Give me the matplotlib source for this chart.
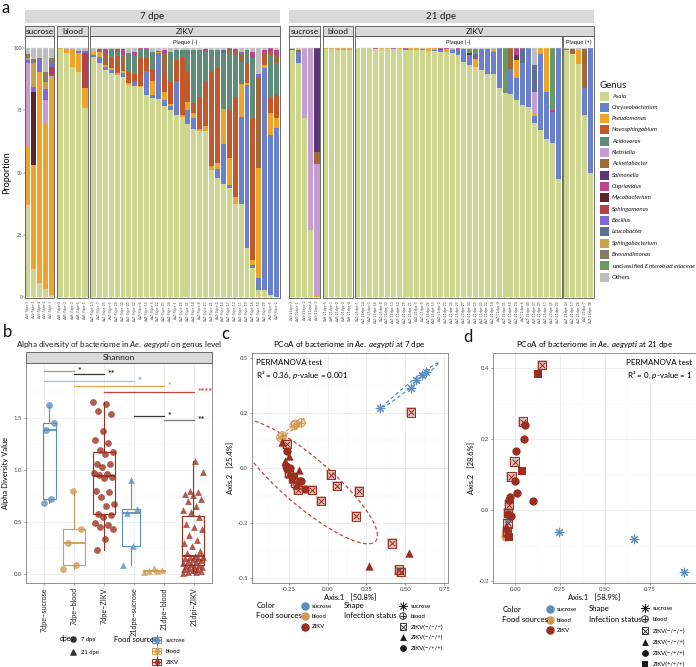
import numpy as np
import matplotlib.pyplot as plt
from matplotlib.patches import Rectangle

plt.rcParams['font.family'] = ['Lato', 'DejaVu Sans']
plt.rcParams['mathtext.fontset'] = 'custom'
plt.rcParams['mathtext.rm'] = 'Lato'
plt.rcParams['mathtext.it'] = 'Lato:italic'

# ---------------- data: panel a (relative abundance, %) ----------------
genera = ['Asaia', 'Chryseobacterium', 'Pseudomonas', 'Novosphingobium', 'Acidovorax',
          'Klebsiella', 'Acinetobacter', 'Salmonella', 'Cupriavidus', 'Mycobacterium',
          'Sphingomonas', 'Bacillus', 'Leucobacter', 'Sphingobacterium', 'Brevundimonas',
          'unclassified Enterobacteriaceae', 'Others']
codes = ['As', 'Ch', 'Ps', 'No', 'Ac', 'Kl', 'At', 'Sa', 'Cu', 'My', 'Sp', 'Ba', 'Le',
         'Sb', 'Br', 'En', 'Ot']
genus_colors = ['#CCD68E', '#6B80CC', '#EEA42A', '#C4582B', '#5F8C78', '#C59DD2', '#A0683B',
                '#5C3576', '#B8468B', '#5A2628', '#B4414B', '#7E69D6', '#606F8E', '#C9A34B',
                '#867B63', '#6A9A5D', '#BEBEBE']

sucrose_7 = [dict(As=37, Ps=24, Kl=33, Ba=1, Sb=1, Br=1.5),
             dict(As=11.5, Ps=41.5, My=29.5, Ba=2, Sb=9.5, Br=1.5),
             dict(As=6, Ps=84.5, Ba=4.5, Br=1),
             dict(As=3.5, Ps=66.5, Kl=9, At=0.5, Ba=4, Sb=3, Br=4),
             dict(As=1, Ps=87, Kl=0.7, Sp=3.5, Ba=1.3, Br=2.5)]
blood_7 = [dict(As=99.5, Ps=0.3), dict(As=98, Ps=1.5), dict(As=92.5, Ps=7, Cu=0.2),
           dict(As=90.5, Ps=7.5, Ba=0.7), dict(As=76, Ps=8, Sp=14, Ba=0.7)]
zikv_7 = [dict(As=96.5, Ch=0.8, Ps=1), dict(As=94, Ch=2.4, Ps=2, At=1.2),
          dict(As=91.2, Ch=1, Ps=0.8, At=5, Cu=1.5), dict(As=89.8, Ch=1.3, Ps=0.9, No=4.4, Ac=3),
          dict(As=89.2, Ps=0.7, No=6.7, Ac=1.6, At=1.3), dict(As=88.5, Ch=1.3, Ps=1, No=2.4, At=4, Cu=2.3),
          dict(As=85.1, Ps=0.7, No=4.4, Ac=7.9), dict(As=84.7, Ch=1.7, No=3, Ac=7.8, Cu=1),
          dict(As=84.5, Ps=0.4, No=11, Ac=3.6, Cu=0.5), dict(As=81, Ch=9.8, No=5, Ac=3.6, Cu=0.6),
          dict(As=80, Ch=1.3, Ps=5.5, No=4.7, Ac=6.7), dict(As=79.4, Ch=18.5, Ps=0.5, Cu=0.5),
          dict(As=76.7, Ch=2.4, Ps=3.3, No=6.7, At=8.7, Cu=1.5), dict(As=75, Ch=1.6, Ps=1.1, No=8.7, Ac=12),
          dict(As=73, Ch=13.8, No=8.3, Ac=4), dict(As=72.4, Ps=0.7, No=22.7, Ac=3.3),
          dict(As=69.7, Ch=5.4, Ps=3.3, No=12, Ac=8.7), dict(As=67.5, Ch=4.3, Ps=2.3, No=3.7, Ac=21.4),
          dict(As=66.8, Ps=0.9, No=12.7, Ac=18.7), dict(As=66.8, Ps=1.9, No=17.8, Ac=12, Cu=1),
          dict(As=51, Ps=1.6, No=37.9, Ac=8.7), dict(As=48, Ch=3.6, Ps=2.3, No=37.9, Ac=7.3),
          dict(As=45.6, Ch=16, Ps=13.8, Ac=22.4, Le=1.2), dict(As=44, Ch=1, Ps=11, No=19, Ac=23, At=2),
          dict(As=37.6, Ps=2.7, No=40, Ac=16.7, At=1.5, Cu=1),
          dict(As=37.3, Ch=35, Ps=13.4, Ac=8.7, At=3.3, Ba=0.7),
          dict(As=20, Ch=65, Ps=1, No=8, Ac=5), dict(As=12, Ch=1, Ps=2, No=57, Ac=24, Cu=2.5),
          dict(As=3, Ch=5, Ps=44, At=36, Ba=1.5), dict(As=3, Ch=89, Ps=1, No=4, At=1, Cu=1),
          dict(As=1, Ch=64, Ps=9, No=6, Ac=17, At=1.5, Cu=1.5),
          dict(Ch=68, Ps=4, No=9, Ac=13, At=3, Cu=2)]
sucrose_21 = [dict(As=99, At=0.7), dict(As=94, Ch=4.5, At=0.8), dict(As=72, Kl=28),
              dict(As=27, Kl=73), dict(Ps=0.5, Kl=53, At=5, Sa=41.5)]
blood_21 = [dict(As=99.6, Ps=0.4), dict(As=99.5, Ps=0.5), dict(As=99.3, Ps=0.6),
            dict(As=99.2, Ps=0.7), dict(As=99, Ps=0.9)]
zikv_21_neg = [dict(As=99.9), dict(As=99.8, Ps=0.2), dict(As=99.8, Ch=0.1), dict(As=99.7, Cu=0.2),
               dict(As=99.6, Ps=0.3), dict(As=99.5, Ps=0.4), dict(As=99.5, Cu=0.4), dict(As=99.4, Ps=0.5),
               dict(As=99.3, Ch=0.4, Cu=0.2), dict(As=99.2, Ps=0.6), dict(As=99.1, Ps=0.7),
               dict(As=99.0, Ch=0.7), dict(As=98.8, Ps=1.0), dict(As=98.6, Ch=0.6, Ps=0.6),
               dict(As=98.4, Ch=0.8, Cu=0.6), dict(As=98.2, Ps=1.2, Cu=0.4),
               dict(As=97.9, Ch=1.2, Ps=0.5), dict(As=97.3, Ch=2, Cu=0.7), dict(As=94.5, Ch=5),
               dict(As=93, Ch=4, Sa=1, En=1.5), dict(As=92.5, Ps=3, Cu=1, Le=1, En=2),
               dict(As=91, Ch=8.5), dict(As=89.5, Ch=10), dict(As=89.5, Ch=9, Ps=1.2),
               dict(As=84, Ch=16), dict(As=82, En=18), dict(As=81.5, Ch=10, At=8.5),
               dict(As=79, Ch=9, Ps=7, Sa=2, Cu=3), dict(As=77, Ch=17, Le=6), dict(As=76.4, Ch=23.6),
               dict(As=70, Ch=2.7, Ps=0.7, Kl=9, Le=10.7), dict(As=67, Ch=30.5, Ps=2.5),
               dict(As=63.5, Ch=19, Ps=17.5), dict(As=62, Ch=12.5, Cu=0.5, En=25),
               dict(As=47.5, Ch=52.5)]
zikv_21_pos = [dict(As=99, Ch=0.5), dict(As=97.5, At=2), dict(As=93.5, Ps=5.5),
               dict(As=73, Ch=11, At=15.5), dict(As=50, Ch=50)]

ids_s7 = ['AaS-7dpe-5', 'AaS-7dpe-1', 'AaS-7dpe-4', 'AaS-7dpe-2', 'AaS-7dpe-3']
ids_b7 = ['AaB-7dpe-4', 'AaB-7dpe-2', 'AaB-7dpe-3', 'AaB-7dpe-5', 'AaB-7dpe-1']
num_z7 = [13, 7, 25, 9, 28, 30, 20, 32, 4, 15, 6, 22, 27, 24, 1, 26, 31, 18, 8, 23, 21, 3,
          14, 17, 12, 11, 19, 16, 10, 29, 5, 2]
ids_s21 = ['AaS-21dpe-5', 'AaS-21dpe-1', 'AaS-21dpe-2', 'AaS-21dpe-4', 'AaS-21dpe-3']
ids_b21 = ['AaB-21dpe-5', 'AaB-21dpe-1', 'AaB-21dpe-2', 'AaB-21dpe-3', 'AaB-21dpe-4']
num_z21n = [1, 14, 3, 16, 8, 33, 13, 12, 29, 21, 5, 9, 26, 15, 2, 23, 36, 25, 27, 30, 19, 32,
            22, 10, 4, 31, 18, 24, 6, 40, 37, 35, 11, 39, 20]
num_z21p = [34, 17, 28, 7, 38]

# ---------------- data: panel b (Shannon) ----------------
b_groups = ['7dpe\u2212sucrose', '7dpe\u2212blood', '7dpe\u2212ZIKV',
            '21dpe\u2212sucrose', '21dpe\u2212blood', '21dpi\u2212ZIKV']
sh_s7 = [0.68, 0.72, 1.38, 1.45, 1.62]
sh_b7 = [0.05, 0.09, 0.30, 0.43, 0.80]
sh_z7 = [1.65, 1.63, 1.56, 1.54, 1.37, 1.29, 1.26, 1.19, 1.17, 1.15, 1.06, 1.06, 1.03, 0.97,
         0.96, 0.95, 0.93, 0.92, 0.80, 0.79, 0.74, 0.67, 0.65, 0.58, 0.57, 0.55, 0.49, 0.47,
         0.45, 0.43, 0.34, 0.23]
sh_s21 = [0.09, 0.27, 0.59, 0.63, 0.90]
sh_b21 = [0.02, 0.03, 0.03, 0.04, 0.06]
sh_z21 = [0.01, 0.02, 0.02, 0.03, 0.04, 0.05, 0.05, 0.06, 0.07, 0.08, 0.08, 0.09, 0.10, 0.11,
          0.12, 0.13, 0.14, 0.15, 0.16, 0.16, 0.17, 0.17, 0.18, 0.20, 0.22, 0.27, 0.30, 0.33,
          0.38, 0.43, 0.45, 0.48, 0.55, 0.60, 0.62, 0.65, 0.70, 0.72, 0.76, 0.77, 0.79, 0.80,
          0.98, 1.09]
sig_pairs = [(0, 1, 1.95, '*'), (1, 2, 1.92, '**'), (0, 3, 1.85, '*'), (1, 4, 1.80, '*'),
             (2, 5, 1.75, '****'), (3, 4, 1.52, '*'), (4, 5, 1.48, '**')]

# ---------------- data: panel c (PCoA 7 dpe) ----------------
c_suc_x = [0.338, 0.534, 0.568, 0.605, 0.630]
c_suc_y = [0.271, 0.362, 0.398, 0.422, 0.433]
c_bld_x = [-0.30, -0.29, -0.215, -0.205, -0.17]
c_bld_y = [0.138, 0.146, 0.192, 0.199, 0.205]
c_zn_x = [0.536, -0.26, -0.246, -0.22, -0.207, -0.19, -0.10, -0.043, 0.024, 0.06, 0.20, 0.184,
          0.412, 0.459, 0.47]
c_zn_y = [0.252, 0.11, -0.023, -0.04, -0.065, -0.10, -0.10, -0.151, -0.03, -0.083, -0.106,
          -0.219, -0.342, -0.46, -0.47]
c_zt_x = [-0.293, -0.25, -0.276, -0.186, -0.25, -0.229, -0.20, 0.263, 0.523]
c_zt_y = [0.116, 0.053, 0.03, -0.008, -0.026, -0.05, -0.075, -0.445, -0.385]
c_zc_x = [-0.26, -0.265, -0.24, -0.169, -0.143, -0.175, -0.26, -0.222]
c_zc_y = [0.075, 0.011, 0.0, -0.06, -0.094, -0.06, -0.005, -0.035]

# ---------------- data: panel d (PCoA 21 dpe) ----------------
d_suc_x = [0.243, 0.663, 0.939, -0.04]
d_suc_y = [-0.062, -0.081, -0.175, -0.025]
d_bld_x = [-0.048, -0.05, -0.045, -0.052, -0.05]
d_bld_y = [-0.068, -0.072, -0.06, -0.075, -0.065]
d_zn_x = [0.149, 0.044, -0.004, -0.022, -0.035, -0.04, -0.044, -0.048]
d_zn_y = [0.41, 0.25, 0.137, 0.095, 0.016, -0.008, -0.037, -0.06]
d_zs_x = [0.127, 0.039, -0.035]
d_zs_y = [0.384, 0.11, -0.074]
d_zc_x = [0.051, 0.05, 0.006, -0.002, 0.007, 0.101, -0.032, -0.034, -0.024, -0.044]
d_zc_y = [0.239, 0.202, 0.168, 0.081, 0.049, 0.025, 0.037, 0.028, -0.017, -0.01]
d_zt_x = [-0.045, -0.048, -0.05]
d_zt_y = [-0.05, -0.065, -0.045]

COL_SUC, COL_BLD, COL_ZIK = '#5A8FBF', '#D19A52', '#9B2E1F'
GRID = '#EBEBEB'
TXT = '#4D4D4D'

W, H = 696, 667
fig = plt.figure(figsize=(6.96, 6.67), dpi=100)


def px_axes(x0, y0, x1, y1):
    return fig.add_axes([x0 / W, 1 - y1 / H, (x1 - x0) / W, (y1 - y0) / H])


def to_matrix(bars):
    m = np.zeros((len(bars), len(codes)))
    for i, b in enumerate(bars):
        for k, v in b.items():
            m[i, codes.index(k)] = v
        m[i, -1] = max(0.0, 100 - m[i].sum())
    return m


# ---------------- panel a ----------------
facets = [
    (sucrose_7, ids_s7, 25, 54),
    (blood_7, ids_b7, 57, 88),
    (zikv_7, [f'AaZ-7dpe-{n}' for n in num_z7], 90.5, 279.5),
    (sucrose_21, ids_s21, 289, 320),
    (blood_21, ids_b21, 323, 352.5),
    (zikv_21_neg, [f'AaZ-21dpe-{n}' for n in num_z21n], 355, 561),
    (zikv_21_pos, [f'AaZ-21dpe-{n}' for n in num_z21p], 563.5, 593.5),
]
for k, (bars, labels, x0, x1) in enumerate(facets):
    ax = px_axes(x0, 48, x1, 297.5)
    m = to_matrix(bars)
    xs = np.arange(len(bars))
    bottom = np.zeros(len(bars))
    for j in range(len(genera)):
        ax.bar(xs, m[:, j], bottom=bottom, width=0.84, color=genus_colors[j], linewidth=0)
        bottom += m[:, j]
    ax.set_xlim(-0.5, len(bars) - 0.5)
    ax.set_ylim(0, 100)
    for s in ax.spines.values():
        s.set_visible(False)
    ax.set_xticks(xs)
    ax.set_xticklabels(labels, rotation=90, fontsize=2.5, color=TXT)
    ax.tick_params(axis='x', length=1.2, width=0.3, pad=0.6, color=TXT)
    if k == 0:
        ax.set_yticks([0, 25, 50, 75, 100])
        ax.set_yticklabels(['0', '25', '50', '75', '100'], fontsize=3.4, color=TXT)
        ax.tick_params(axis='y', length=1.2, width=0.3, pad=0.8, color=TXT)
        ax.set_ylabel('Proportion', fontsize=6.5, labelpad=2)
    else:
        ax.set_yticks([])

# ---------------- panel b ----------------
axb = px_axes(26, 363, 212, 583)
b_values = [sh_s7, sh_b7, sh_z7, sh_s21, sh_b21, sh_z21]
b_colors = [COL_SUC, COL_BLD, COL_ZIK, COL_SUC, COL_BLD, COL_ZIK]
b_markers = ['o', 'o', 'o', '^', '^', '^']
b_box_pos = [0.19, 1.0, 2.0, 2.91, 3.69, 4.98]
b_box_w = [0.41, 0.74, 0.74, 0.59, 0.74, 0.74]
for i, vals in enumerate(b_values):
    col = b_colors[i]
    bp = axb.boxplot([vals], positions=[b_box_pos[i]], widths=[b_box_w[i]], showfliers=False,
                     patch_artist=True, manage_ticks=False)
    for p in bp['boxes']:
        p.set(facecolor='none', edgecolor=col, linewidth=0.8)
    for l in bp['whiskers']:
        l.set(color=col, linewidth=0.8)
    for l in bp['caps']:
        l.set(linewidth=0)
    for l in bp['medians']:
        l.set(color=col, linewidth=1.3)
    n = len(vals)
    offs = ((np.arange(n) * 0.618034) % 1 - 0.5) * b_box_w[i] * 0.95
    axb.scatter(b_box_pos[i] + offs, vals, marker=b_markers[i], s=24, color=col, alpha=0.78,
                linewidths=0, zorder=3)
sig_colors = ['#9E9E9E', '#333333', '#9CC3DD', '#E3A650', '#C0463A', '#333333', '#777777']
star_colors = ['#222222', '#222222', COL_SUC, '#E3A650', '#C0463A', '#222222', '#222222']
for (g0, g1, yv, lab), lc, sc in zip(sig_pairs, sig_colors, star_colors):
    axb.plot([g0, g1], [yv, yv], color=lc, lw=0.9, clip_on=False, zorder=4)
    axb.text(g1 + 0.12, yv - 0.005, lab, color=sc, fontsize=6.5, ha='left', va='center',
             fontweight='bold', clip_on=False)
axb.set_xlim(-0.59, 5.61)
axb.set_ylim(-0.083, 2.024)
axb.set_xticks(np.arange(6))
axb.set_xticklabels(b_groups, rotation=90, fontsize=5.2, color='#222222')
axb.set_yticks([0, 0.5, 1.0, 1.5])
axb.set_yticklabels(['0.0', '0.5', '1.0', '1.5'], fontsize=4.3, color=TXT)
axb.set_yticks([0.25, 0.75, 1.25, 1.75], minor=True)
axb.grid(True, which='major', color=GRID, lw=0.55)
axb.grid(True, which='minor', axis='y', color='#F3F3F3', lw=0.35)
axb.set_axisbelow(True)
axb.tick_params(length=1.5, width=0.4, color=TXT, pad=1.5)
axb.tick_params(which='minor', length=0)
axb.set_ylabel('Alpha Diversity Value', fontsize=5.5, labelpad=3)
for s in axb.spines.values():
    s.set_color('#7F7F7F')
    s.set_linewidth(0.6)


# ---------------- helpers for PCoA panels ----------------
def cov_trob(X, nu=5, iters=60):
    n, p = X.shape
    loc = X.mean(0)
    cov = np.cov(X.T)
    for _ in range(iters):
        d = X - loc
        q = np.einsum('ij,jk,ik->i', d, np.linalg.inv(cov), d)
        w = (nu + p) / (nu + q)
        loc = (w[:, None] * X).sum(0) / w.sum()
        d = X - loc
        cov = (w[:, None] * d).T @ d / n
    return loc, cov


def draw_ellipse(ax, xs, ys, color, level=0.95, robust=True):
    X = np.column_stack([xs, ys])
    n = len(xs)
    if robust:
        loc, cov = cov_trob(X)
    else:
        loc, cov = X.mean(0), np.cov(X.T)
    dfd = n - 1
    fq = dfd / 2 * ((1 - level) ** (-2 / dfd) - 1)
    radius = np.sqrt(2 * fq)
    t = np.linspace(0, 2 * np.pi, 200)
    circ = np.column_stack([np.cos(t), np.sin(t)])
    ch = np.linalg.cholesky(cov)
    pts = loc + radius * circ @ ch.T
    ax.plot(pts[:, 0], pts[:, 1], ls=(0, (3, 2)), color=color, lw=0.9)


def pts(ax, xs, ys, kind, color, s=36):
    if kind == 'sucrose':
        ax.scatter(xs, ys, marker='o', s=s * 0.9, color=color, alpha=0.25, linewidths=0, zorder=3)
        ax.scatter(xs, ys, marker=(8, 2, 0), s=s * 1.1, color=color, linewidths=0.7, zorder=4)
    elif kind == 'blood':
        ax.scatter(xs, ys, marker='o', s=s, facecolor=color, alpha=0.35, linewidths=0, zorder=3)
        ax.scatter(xs, ys, marker='o', s=s, facecolor='none', edgecolor=color, linewidths=0.7, zorder=4)
        ax.scatter(xs, ys, marker='+', s=s * 0.8, color=color, linewidths=0.7, zorder=4)
    elif kind == 'box':
        ax.scatter(xs, ys, marker='s', s=s * 1.2, facecolor=color, alpha=0.3, linewidths=0, zorder=3)
        ax.scatter(xs, ys, marker='s', s=s, facecolor='none', edgecolor=color, linewidths=0.7, zorder=4)
        ax.scatter(xs, ys, marker='x', s=s * 0.5, color=color, linewidths=0.7, zorder=4)
    elif kind == 'tri':
        ax.scatter(xs, ys, marker='^', s=s, color=color, linewidths=0, zorder=4)
    elif kind == 'circ':
        ax.scatter(xs, ys, marker='o', s=s, color=color, linewidths=0, zorder=4)
    elif kind == 'sq':
        ax.scatter(xs, ys, marker='s', s=s, color=color, linewidths=0, zorder=4)


def style_pcoa(ax, xt, yt, xmin, xmax, ymin, ymax, xlab, ylab):
    ax.set_xlim(xmin, xmax)
    ax.set_ylim(ymin, ymax)
    ax.set_xticks(xt)
    ax.set_xticklabels([f'{v:.2f}' for v in xt], fontsize=4.3, color=TXT)
    ax.set_yticks(yt)
    ax.set_yticklabels([f'{v:.2f}' if abs(yt[1] - yt[0]) < 0.2 else f'{v:.1f}' for v in yt],
                       fontsize=4.3, color=TXT)
    xm = np.array(xt[:-1]) + np.diff(xt) / 2
    ym = np.array(yt[:-1]) + np.diff(yt) / 2
    ax.set_xticks(list(xm) + [xt[0] - (xt[1] - xt[0]) / 2], minor=True)
    ax.set_yticks(list(ym), minor=True)
    ax.grid(True, which='major', color=GRID, lw=0.55)
    ax.grid(True, which='minor', color='#F3F3F3', lw=0.35)
    ax.set_axisbelow(True)
    ax.tick_params(length=1.5, width=0.4, color=TXT, pad=1.5)
    ax.tick_params(which='minor', length=0)
    ax.set_xlabel(xlab, fontsize=5.5, labelpad=1.5)
    ax.set_ylabel(ylab, fontsize=5.5, labelpad=2)
    for s in ax.spines.values():
        s.set_color('#7F7F7F')
        s.set_linewidth(0.6)


# ---------------- panel c ----------------
axc = px_axes(252, 353, 447.5, 583)
draw_ellipse(axc, c_suc_x, c_suc_y, COL_SUC, level=0.6, robust=False)
draw_ellipse(axc, c_bld_x, c_bld_y, COL_BLD, level=0.6, robust=False)
draw_ellipse(axc, c_zn_x + c_zt_x + c_zc_x, c_zn_y + c_zt_y + c_zc_y, '#B0503F', level=0.93)
pts(axc, c_suc_x, c_suc_y, 'sucrose', COL_SUC)
pts(axc, c_bld_x, c_bld_y, 'blood', COL_BLD)
pts(axc, c_zn_x, c_zn_y, 'box', COL_ZIK)
pts(axc, c_zt_x, c_zt_y, 'tri', COL_ZIK)
pts(axc, c_zc_x, c_zc_y, 'circ', COL_ZIK)
style_pcoa(axc, [-0.25, 0.0, 0.25, 0.5, 0.75], [-0.5, -0.25, 0.0, 0.25, 0.5],
           -0.485, 0.77, -0.521, 0.521, 'Axis.1   [50.8%]', 'Axis.2   [25.4%]')
axc.text(0.02, 0.975, 'PERMANOVA test', transform=axc.transAxes, fontsize=5.8, va='top')
axc.text(0.02, 0.925, r'R² = 0.36, $\it{p}$-value = 0.001', transform=axc.transAxes,
         fontsize=5.8, va='top')
axc.set_title(r'PCoA of bacteriome in $\it{Ae.\ aegypti}$ at 7 dpe', fontsize=5.8, pad=4)

# ---------------- panel d ----------------
axd = px_axes(493, 353, 695.5, 583)
pts(axd, d_suc_x, d_suc_y, 'sucrose', COL_SUC)
pts(axd, d_bld_x, d_bld_y, 'blood', COL_BLD)
pts(axd, d_zt_x, d_zt_y, 'tri', COL_ZIK)
pts(axd, d_zn_x, d_zn_y, 'box', COL_ZIK)
pts(axd, d_zc_x, d_zc_y, 'circ', COL_ZIK)
pts(axd, d_zs_x, d_zs_y, 'sq', COL_ZIK)
style_pcoa(axd, [0.0, 0.25, 0.5, 0.75], [-0.2, 0.0, 0.2, 0.4],
           -0.11, 1.006, -0.205, 0.443, 'Axis.1   [58.9%]', 'Axis.2   [28.6%]')
axd.text(0.985, 0.975, 'PERMANOVA test', transform=axd.transAxes, fontsize=5.8, va='top', ha='right')
axd.text(0.985, 0.925, r'R² = 0, $\it{p}$-value = 1', transform=axd.transAxes,
         fontsize=5.8, va='top', ha='right')
axd.set_title(r'PCoA of bacteriome in $\it{Ae.\ aegypti}$ at 21 dpe', fontsize=5.8, pad=4)

# ---------------- overlay: strips, legends, panel letters ----------------
ov = fig.add_axes([0, 0, 1, 1])
ov.set_xlim(0, W)
ov.set_ylim(H, 0)
ov.axis('off')
ov.patch.set_visible(False)

STRIP = '#D9D9D9'
EDGE = '#555555'
for x0, x1, lab in [(25, 280, '7 dpe'), (289, 594, '21 dpe')]:
    ov.add_patch(Rectangle((x0, 10), x1 - x0, 13, facecolor=STRIP, edgecolor='none'))
    ov.text((x0 + x1) / 2, 16.5, lab, fontsize=7, ha='center', va='center', color='#1A1A1A')
for x0, x1, lab in [(25, 54, 'sucrose'), (57, 88, 'blood'), (90, 280, 'ZIKV'),
                    (289, 320, 'sucrose'), (323, 353, 'blood'), (355, 594, 'ZIKV')]:
    ov.add_patch(Rectangle((x0, 26), x1 - x0, 10, facecolor=STRIP, edgecolor=EDGE, lw=0.6))
    ov.text((x0 + x1) / 2, 31, lab, fontsize=6, ha='center', va='center', color='#1A1A1A')
for x0, x1, lab in [(25, 54, ''), (57, 88, ''), (90, 280, 'Plaque (-)'),
                    (289, 320, ''), (323, 353, ''), (355, 561.5, 'Plaque (-)'),
                    (563, 594, 'Plaque (+)')]:
    ov.add_patch(Rectangle((x0, 36), x1 - x0, 262, facecolor='none', edgecolor=EDGE, lw=0.6))
    ov.plot([x0, x1], [48, 48], color='#DDDDDD', lw=0.3)
    ov.text((x0 + x1) / 2, 42.5, lab, fontsize=4.2, ha='center', va='center', color='#1A1A1A')

# genus legend
ov.text(600, 85, 'Genus', fontsize=7, va='center', color='#1A1A1A')
for i, g in enumerate(genera):
    yc = 96 + i * 11.33
    ov.add_patch(Rectangle((599.5, yc - 4.5), 9, 9, facecolor=genus_colors[i], edgecolor='none'))
    if g == 'Others':
        txt, style = g, 'normal'
    elif g.startswith('unclassified'):
        txt, style = r'unclassified $\it{Enterobacteriaceae}$', 'normal'
    else:
        txt, style = g, 'italic'
    ov.text(612, yc, txt, fontsize=4.4, fontstyle=style, va='center', color='#1A1A1A')

# panel b strip & title
ov.add_patch(Rectangle((26, 352), 186, 11, facecolor=STRIP, edgecolor=EDGE, lw=0.6))
ov.text(119, 357.5, 'Shannon', fontsize=6, ha='center', va='center', color='#1A1A1A')
ov.text(119, 344, r'Alpha diversity of bacteriome in $\it{Ae.\ aegypti}$ on genus level',
        fontsize=5.8, ha='center', va='center', color='#1A1A1A')

# panel b legend
ov.text(60, 639, 'dpe', fontsize=5, va='center')
ov.scatter([73], [638.5], marker='o', s=14, color='#333333')
ov.text(81, 639, '7 dpe', fontsize=4.2, va='center')
ov.scatter([73], [652], marker='^', s=14, color='#333333')
ov.text(81, 652.5, '21 dpe', fontsize=4.2, va='center')
ov.text(114, 639.5, 'Food sources', fontsize=5.3, va='center')
for yc, col, lab in [(640, COL_SUC, 'sucrose'), (651, COL_BLD, 'blood'), (662, COL_ZIK, 'ZIKV')]:
    ov.plot([156.5, 156.5], [yc - 5, yc + 5], color=col, lw=0.7)
    ov.add_patch(Rectangle((152, yc - 3), 9, 6, facecolor='white', edgecolor=col, lw=0.7))
    ov.plot([152, 161], [yc, yc], color=col, lw=0.9)
    ov.scatter([156.5], [yc], marker='o', s=10, color=col, alpha=0.8, zorder=5)
    ov.text(166, yc + 0.5, lab, fontsize=4.2, va='center')


def pcoa_legend(x0, xcol, xshape, ys_col, ys_shape, shape_items):
    ov.text(x0, ys_col[0], 'Color', fontsize=5.6, va='center')
    ov.text(x0, ys_col[0] + 10, 'Food sources', fontsize=5.6, va='center')
    for yc, col, lab in zip(ys_col, [COL_SUC, COL_BLD, COL_ZIK], ['sucrose', 'blood', 'ZIKV']):
        ov.scatter([xcol], [yc], marker='o', s=26, color=col)
        ov.text(xcol + 7, yc + 0.5, lab, fontsize=4.3, va='center')
    ov.text(xcol + 39, ys_col[0], 'Shape', fontsize=5.6, va='center')
    ov.text(xcol + 39, ys_col[0] + 10, 'Infection status', fontsize=5.6, va='center')
    for yc, (kind, lab) in zip(ys_shape, shape_items):
        if kind == 'sucrose':
            ov.scatter([xshape], [yc], marker=(8, 2, 0), s=30, color='#1A1A1A', linewidths=0.6)
        elif kind == 'blood':
            ov.scatter([xshape], [yc], marker='o', s=22, facecolor='none', edgecolor='#1A1A1A', linewidths=0.6)
            ov.scatter([xshape], [yc], marker='+', s=18, color='#1A1A1A', linewidths=0.6)
        elif kind == 'box':
            ov.scatter([xshape], [yc], marker='s', s=22, facecolor='none', edgecolor='#1A1A1A', linewidths=0.6)
            ov.scatter([xshape], [yc], marker='x', s=11, color='#1A1A1A', linewidths=0.6)
        else:
            mk = {'tri': '^', 'circ': 'o', 'sq': 's'}[kind]
            ov.scatter([xshape], [yc], marker=mk, s=24, color='#1A1A1A', linewidths=0)
        ov.text(xshape + 8, yc + 0.5, lab, fontsize=4.3, va='center')


shape_c = [('sucrose', 'sucrose'), ('blood', 'blood'), ('box', 'ZIKV(\u2212/\u2212/\u2212)'),
           ('tri', 'ZIKV(\u2212/\u2212/+)'), ('circ', 'ZIKV(\u2212/+/+)')]
pcoa_legend(256.5, 305, 403, [605.5, 616, 626.5], [605.5, 616, 626.5, 637, 647.5], shape_c)
shape_d = shape_c + [('sq', 'ZIKV(+/+/+)')]
pcoa_legend(502.5, 550, 645, [609, 619.5, 630], [608, 619, 630.5, 642, 653, 664], shape_d)

# panel letters
for x, y, lab in [(2, 8, 'a'), (3, 332, 'b'), (221, 334, 'c'), (463, 337, 'd')]:
    ov.text(x, y, lab, fontsize=12, va='center', ha='left', color='#111111')

fig.savefig('out.png', dpi=100)
